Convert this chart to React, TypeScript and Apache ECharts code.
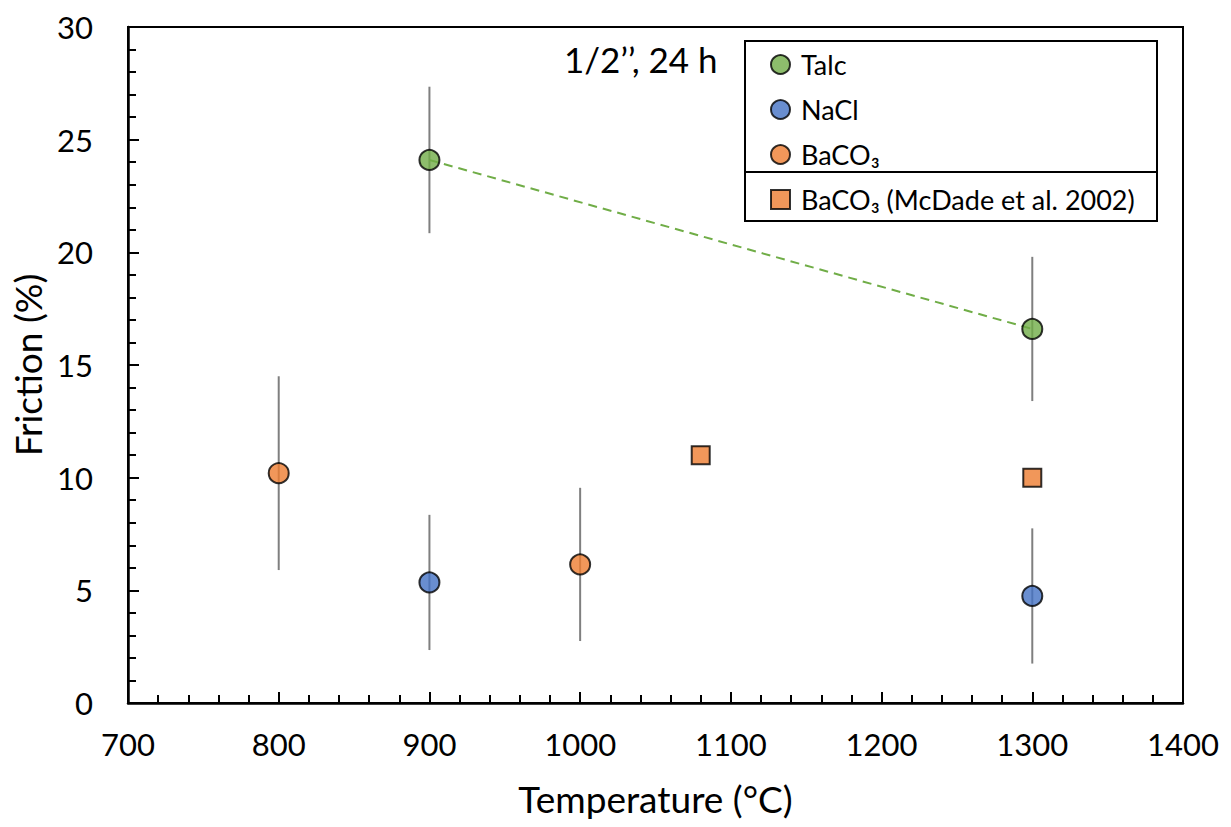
import React, { useEffect, useRef } from "react";
import * as echarts from "echarts";

const talc: number[][] = [[900, 24.1], [1300, 16.6]];
const talcErr: number[] = [3.25, 3.2];
const nacl: number[][] = [[900, 5.35], [1300, 4.75]];
const naclErr: number[] = [3.0, 3.0];
const baco3: number[][] = [[800, 10.2], [1000, 6.15]];
const baco3Err: number[] = [4.3, 3.4];
const mcdade: number[][] = [[1080, 11.0], [1300, 10.0]];

const xTicks = { min: 700, max: 1400, interval: 100 };
const yTicks = { min: 0, max: 30, interval: 5 };

const FONT = "Lato";

function errRows(pts: number[][], err: number[]) {
  return pts.map((p, i) => [p[0], p[1] - err[i], p[1] + err[i]]);
}

export default function App() {
  const ref = useRef<HTMLDivElement>(null);
  useEffect(() => {
    if (!ref.current) return;
    const chart = echarts.init(ref.current, null, { renderer: "svg" });
    const errData = [
      ...errRows(talc, talcErr),
      ...errRows(nacl, naclErr),
      ...errRows(baco3, baco3Err),
    ];
    const markerBorder = { borderColor: "#000", borderWidth: 2 };
    chart.setOption({
      animation: false,
      backgroundColor: "#fff",
      textStyle: { fontFamily: FONT },
      grid: {
        left: 128,
        right: 48,
        top: 27,
        bottom: 124,
        show: true,
        borderColor: "#000",
        borderWidth: 2,
        outerBoundsMode: "none",
        containLabel: false,
      },
      xAxis: {
        type: "value",
        min: xTicks.min,
        max: xTicks.max,
        interval: xTicks.interval,
        name: "Temperature (°C)",
        nameLocation: "middle",
        nameGap: 77,
        nameTextStyle: { fontSize: 37, color: "#000", fontFamily: FONT },
        axisLine: { show: true, lineStyle: { color: "#000", width: 2.5 } },
        axisTick: { show: true, inside: true, length: 11, lineStyle: { color: "#000", width: 2 } },
        minorTick: { show: true, splitNumber: 5, length: 8, lineStyle: { color: "#000", width: 2 } },
        splitLine: { show: false },
        axisLabel: { fontSize: 31, color: "#000", margin: 25, fontFamily: FONT, formatter: (v: number) => String(v) },
      },
      yAxis: {
        type: "value",
        min: yTicks.min,
        max: yTicks.max,
        interval: yTicks.interval,
        name: "Friction (%)",
        nameLocation: "middle",
        nameGap: 81,
        nameRotate: 90,
        nameTextStyle: { fontSize: 37, color: "#000", fontFamily: FONT },
        axisLine: { show: true, lineStyle: { color: "#000", width: 2.5 } },
        axisTick: { show: true, inside: true, length: 11, lineStyle: { color: "#000", width: 2 } },
        minorTick: { show: true, splitNumber: 5, length: 8, lineStyle: { color: "#000", width: 2 } },
        splitLine: { show: false },
        axisLabel: { fontSize: 31, color: "#000", margin: 35, fontFamily: FONT, formatter: (v: number) => String(v) },
      },
      legend: {
        orient: "vertical",
        left: 765,
        top: 46,
        itemWidth: 19,
        itemHeight: 19,
        itemGap: 18,
        textStyle: { fontSize: 27, color: "#000", fontFamily: FONT, padding: [0, 0, 0, 6] },
        data: ["Talc", "NaCl", "BaCO₃", "BaCO₃ (McDade et al. 2002)"],
      },
      graphic: [
        {
          type: "rect",
          shape: { x: 745, y: 41, width: 412, height: 180 },
          style: { fill: "none", stroke: "#000", lineWidth: 2 },
          z: 1,
        },
        {
          type: "line",
          shape: { x1: 745, y1: 172, x2: 1157, y2: 172 },
          style: { stroke: "#000", lineWidth: 2 },
          z: 1,
        },
        {
          type: "text",
          left: 564,
          top: 41,
          style: { text: "1/2’’, 24 h", fontSize: 35, fill: "#000", fontFamily: FONT },
        },
      ],
      series: [
        {
          type: "custom",
          name: "err",
          data: errData,
          encode: { x: 0, y: [1, 2] },
          silent: true,
          z: 1,
          renderItem: (params: any, api: any) => {
            const lo = api.coord([api.value(0), api.value(1)]);
            const hi = api.coord([api.value(0), api.value(2)]);
            return {
              type: "line",
              shape: { x1: lo[0], y1: lo[1], x2: hi[0], y2: hi[1] },
              style: { stroke: "#7f7f7f", lineWidth: 2 },
            };
          },
        },
        {
          type: "line",
          name: "talcLine",
          data: talc,
          symbol: "none",
          z: 2,
          lineStyle: { color: "#70AD47", width: 2, type: [9, 6] },
          silent: true,
        },
        {
          type: "scatter",
          name: "Talc",
          data: talc,
          symbol: "circle",
          symbolSize: 20,
          z: 3,
          itemStyle: { color: "#70AD47", ...markerBorder },
        },
        {
          type: "scatter",
          name: "NaCl",
          data: nacl,
          symbol: "circle",
          symbolSize: 20,
          z: 3,
          itemStyle: { color: "#4472C4", ...markerBorder },
        },
        {
          type: "scatter",
          name: "BaCO₃",
          data: baco3,
          symbol: "circle",
          symbolSize: 20,
          z: 3,
          itemStyle: { color: "#ED7D31", ...markerBorder },
        },
        {
          type: "scatter",
          name: "BaCO₃ (McDade et al. 2002)",
          data: mcdade,
          symbol: "rect",
          symbolSize: 18,
          z: 3,
          itemStyle: { color: "#ED7D31", ...markerBorder },
        },
      ],
    });
    return () => chart.dispose();
  }, []);
  return <div ref={ref} style={{ width: 1231, height: 827, margin: -8 }} />;
}
